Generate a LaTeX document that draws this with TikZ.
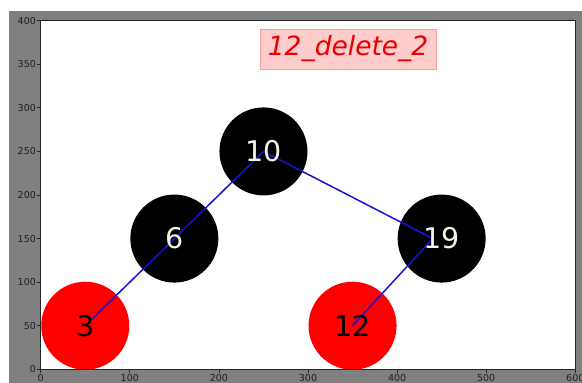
\documentclass[tikz,border=0pt]{standalone}
\usepackage{fontspec}
\setmainfont{DejaVu Sans}
\usetikzlibrary{calc}
\definecolor{figgray}{RGB}{128,128,128}
\definecolor{edgeblue}{RGB}{20,20,215}
\definecolor{labelivory}{RGB}{245,245,230}
\definecolor{titlepink}{RGB}{255,204,204}
\definecolor{titleframe}{RGB}{240,160,160}
\definecolor{titlered}{RGB}{232,0,0}
\definecolor{ticktext}{RGB}{30,30,30}
\tikzset{
  treenode/.style={circle, inner sep=0pt, minimum size=88pt},
  blacknode/.style={treenode, fill=black},
  rednode/.style={treenode, fill=red},
  keylabel/.style={inner sep=0pt, font=\fontsize{28.5}{30}\selectfont},
  darkkey/.style={keylabel, text=labelivory},
  lightkey/.style={keylabel, text=black},
  edge/.style={draw=edgeblue, line width=1.5pt},
  axisframe/.style={draw=black!85, line width=0.9pt},
  tickmark/.style={draw=black!85, line width=0.7pt},
  ticklabel/.style={inner sep=1pt, text=ticktext, font=\fontsize{9.5}{10}\selectfont},
  titlebox/.style={draw=titleframe, fill=titlepink, line width=0.8pt,
    minimum width=176pt, minimum height=40pt, inner sep=0pt,
    text=titlered, font=\fontsize{26.5}{28}\selectfont\itshape}
}
\begin{document}
\begin{tikzpicture}[x=1pt,y=1pt]
\useasboundingbox (0,0) rectangle (582,383);
\fill[white] (0,0) rectangle (582,383);
% figure background
\fill[figgray] (9,0) rectangle (582,372);
% axes in data coordinates (0..600 by 0..400)
\begin{scope}[shift={(40.7,13.7)}, x=0.891pt, y=0.8715pt]
  \fill[white] (0,0) rectangle (600,400);
  \begin{scope}
    \clip (0,0) rectangle (600,400);
    \node[blacknode] (n10) at (250,250) {};
    \node[blacknode] (n6)  at (150,150) {};
    \node[blacknode] (n19) at (450,150) {};
    \node[rednode]   (n3)  at (50,50)   {};
    \node[rednode]   (n12) at (350,50)  {};
  \end{scope}
  % tree edges
  \draw[edge] (n10.center) -- (n6.center) -- ($(n3.center)+(7,7)$);
  \draw[edge] (n10.center) -- ($(n19.center)+(-10,0)$);
  \draw[edge] ($(n19.center)+(-10,0)$) -- (n12.center);
  % keys
  \node[darkkey]  (t10) at (n10) {10};
  \node[darkkey]  (t6)  at (n6)  {6};
  \node[darkkey]  (t19) at (n19) {19};
  \node[lightkey] (t3)  at (n3)  {3};
  \node[lightkey] (t12) at (n12) {12};
  % title
  \node[titlebox] (title) at (345,367.5) {12\_delete\_2};
  % frame and ticks
  \draw[axisframe] (0,0) rectangle (600,400);
  \foreach \v in {0,100,...,600}
    \draw[tickmark] (\v,0) -- ++(0,-3.5pt) node[ticklabel, anchor=north] {\v};
  \foreach \v in {0,50,...,400}
    \draw[tickmark] (0,\v) -- ++(-3.5pt,0) node[ticklabel, anchor=east] {\v};
\end{scope}
\end{tikzpicture}
\end{document}
